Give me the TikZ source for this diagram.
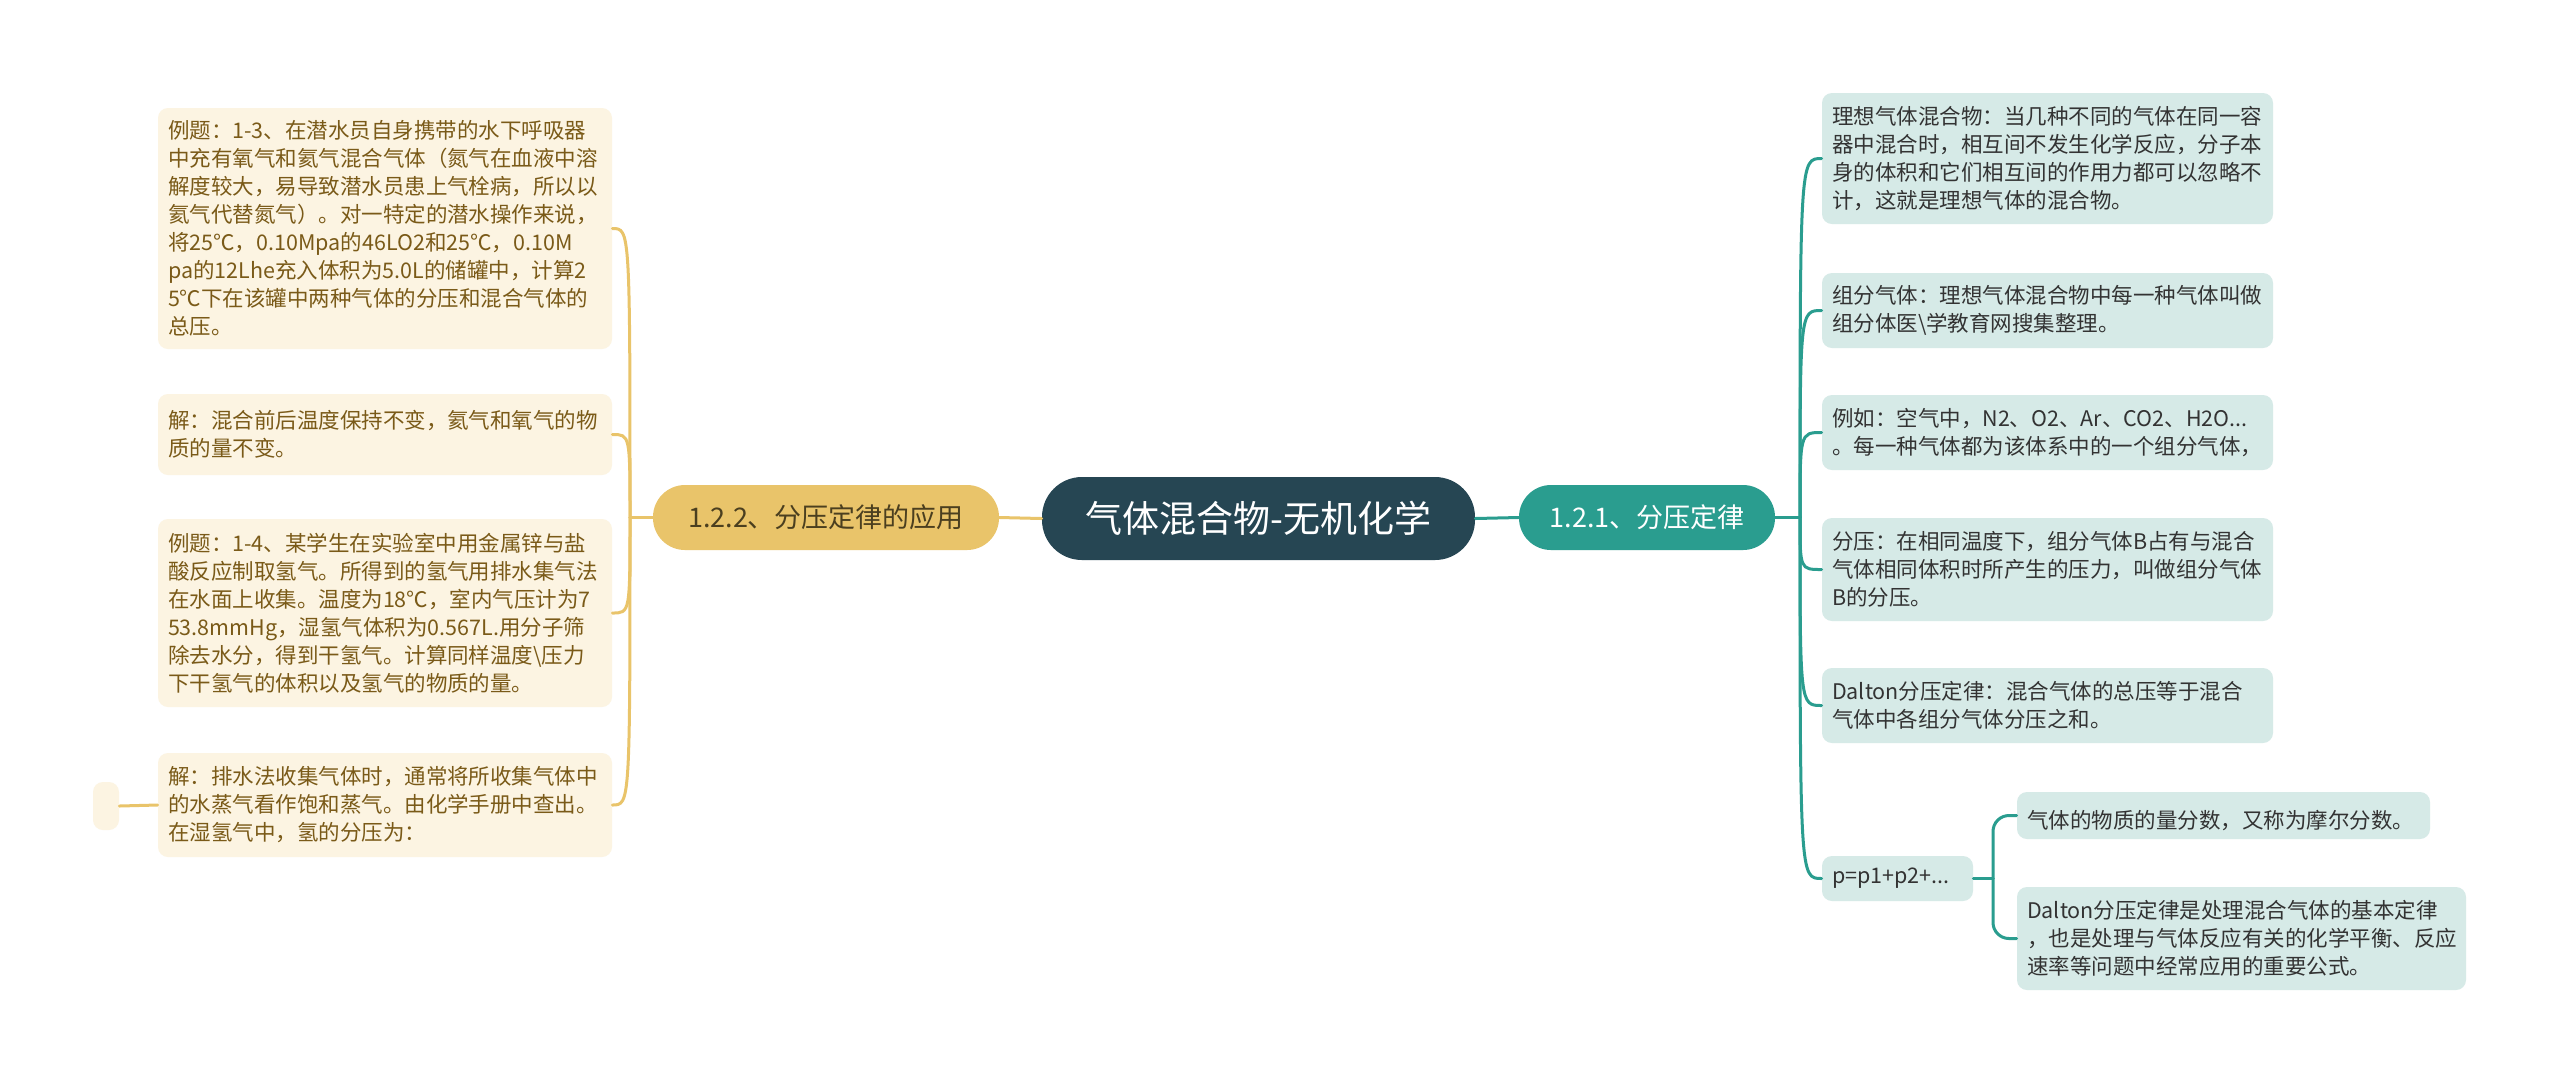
\documentclass[tikz,border=0pt]{standalone}
\usepackage{fontspec}
\setmainfont{Noto Sans CJK SC}
\usepackage{tikz}

\begin{document}
\begin{tikzpicture}
		[x=0.5pt,y=-0.5pt,line cap=round,
		%Styles
		root/.style={fill=rootcol,text=white,rounded corners=20pt,minimum width=216.5pt,minimum height=41.5pt,font=\fontsize{18.5}{22}\selectfont},
		branch/.style={rounded corners=16pt,minimum height=32.5pt,inner sep=0pt,font=\fontsize{13.5}{16}\selectfont},
		leaf/.style={rounded corners=5pt,align=left,inner xsep=5pt,inner ysep=0pt,font=\fontsize{10.75}{14}\selectfont},
		leftleaf/.style={leaf,fill=creamfill,text=browntext,text width=#1},
		rightleaf/.style={leaf,fill=tealfill,text=darktext,text width=#1},
		leftline/.style={draw=goldcol,line width=1.5pt},
		rightline/.style={draw=tealcol,line width=1.5pt}
		]
		
		%Colors
		\definecolor{rootcol}{HTML}{264653}
		\definecolor{tealcol}{HTML}{2A9D8F}
		\definecolor{goldcol}{HTML}{E9C46A}
		\definecolor{tealfill}{HTML}{D6EAE7}
		\definecolor{creamfill}{HTML}{FCF4E2}
		\definecolor{browntext}{HTML}{7A5A18}
		\definecolor{goldtext}{HTML}{4B3F1F}
		\definecolor{darktext}{HTML}{333333}
		
		\useasboundingbox (0,0) rectangle (2560,1084);
		\fill[white] (0,0) rectangle (2560,1084);
		
		%The graphic
		\node[root] (root) at (1258.5,518.5) {气体混合物-无机化学};
		\node[branch,fill=tealcol,text=white,minimum width=128pt] (law) at (1647,517.5) {1.2.1、分压定律};
		\node[branch,fill=goldcol,text=goldtext,minimum width=173pt] (app) at (826,517.5) {1.2.2、分压定律的应用};
		
		%right side
		\node[rightleaf=215.5pt,minimum height=65.5pt] (ideal) at (2047.5,158.5) {理想气体混合物：当几种不同的气体在同一容\\器中混合时，相互间不发生化学反应，分子本\\身的体积和它们相互间的作用力都可以忽略不\\计，这就是理想气体的混合物。};
		\node[rightleaf=215.5pt,minimum height=37.5pt] (comp) at (2047.5,310.5) {组分气体：理想气体混合物中每一种气体叫做\\组分体医\textbackslash 学教育网搜集整理。};
		\node[rightleaf=215.5pt,minimum height=37.5pt] (example) at (2047.5,432.5) {例如：空气中，N2、O2、Ar、CO2、H2O...\\。每一种气体都为该体系中的一个组分气体，};
		\node[rightleaf=215.5pt,minimum height=51.5pt] (partial) at (2047.5,569.5) {分压：在相同温度下，组分气体B占有与混合\\气体相同体积时所产生的压力，叫做组分气体\\B的分压。};
		\node[rightleaf=215.5pt,minimum height=37.5pt] (dalton) at (2047.5,705.5) {Dalton分压定律：混合气体的总压等于混合\\气体中各组分气体分压之和。};
		\node[rightleaf=65.5pt,minimum height=22.5pt] (sum) at (1897.5,878.5) {p=p1+p2+...};
		\node[rightleaf=196.5pt,minimum height=23.5pt] (frac) at (2223.5,815.5) {\ 气体的物质的量分数，又称为摩尔分数。};
		\node[rightleaf=214.5pt,minimum height=51.5pt] (base) at (2241.5,938.5) {Dalton分压定律是处理混合气体的基本定律\\，也是处理与气体反应有关的化学平衡、反应\\速率等问题中经常应用的重要公式。};
		
		%left side
		\node[leftleaf=217pt,minimum height=120.5pt] (ex1) at (385,228.5) {例题：1-3、在潜水员自身携带的水下呼吸器\\中充有氧气和氦气混合气体（氮气在血液中溶\\解度较大，易导致潜水员患上气栓病，所以以\\氦气代替氮气）。对一特定的潜水操作来说，\\将25℃，0.10Mpa的46LO2和25℃，0.10M\\pa的12Lhe充入体积为5.0L的储罐中，计算2\\5℃下在该罐中两种气体的分压和混合气体的\\总压。};
		\node[leftleaf=217pt,minimum height=40.5pt] (sol1) at (385,434.5) {解：混合前后温度保持不变，氦气和氧气的物\\质的量不变。};
		\node[leftleaf=217pt,minimum height=94pt] (ex2) at (385,613) {例题：1-4、某学生在实验室中用金属锌与盐\\酸反应制取氢气。所得到的氢气用排水集气法\\在水面上收集。温度为18℃，室内气压计为7\\53.8mmHg，湿氢气体积为0.567L.用分子筛\\除去水分，得到干氢气。计算同样温度\textbackslash 压力\\下干氢气的体积以及氢气的物质的量。};
		\node[leftleaf=217pt,minimum height=52pt] (sol2) at (385,805) {解：排水法收集气体时，通常将所收集气体中\\的水蒸气看作饱和蒸气。由化学手册中查出。\\在湿氢气中，氢的分压为：};
		\node[leaf,fill=creamfill,minimum width=13pt,minimum height=24pt,inner xsep=0pt] (blank) at (106,806) {};
		
		%connectors
		\coordinate (jr) at (1800,517.5);
		\coordinate (jl) at (630,517.5);
		\coordinate (jp) at (1993,878.5);
		
		\draw[leftline] (root.west) -- (app.east);
		\draw[rightline] (root.east) -- (law.west);
		\draw[rightline] (law.east) -- (jr);
		\foreach \n in {ideal,comp,example,partial,dalton,sum}
			\draw[rightline] (jr) .. controls (jr |- \n.west) .. (\n.west);
		\draw[leftline] (app.west) -- (jl);
		\foreach \n in {ex1,sol1,ex2,sol2}
			\draw[leftline] (jl) .. controls (jl |- \n.east) .. (\n.east);
		\draw[leftline] (sol2.west) -- (blank.east);
		\draw[rightline] (sum.east) -- (jp);
		\foreach \n in {frac,base}
			\draw[rightline,rounded corners=8pt] (jp) |- (\n.west);
	\end{tikzpicture}
\end{document}
